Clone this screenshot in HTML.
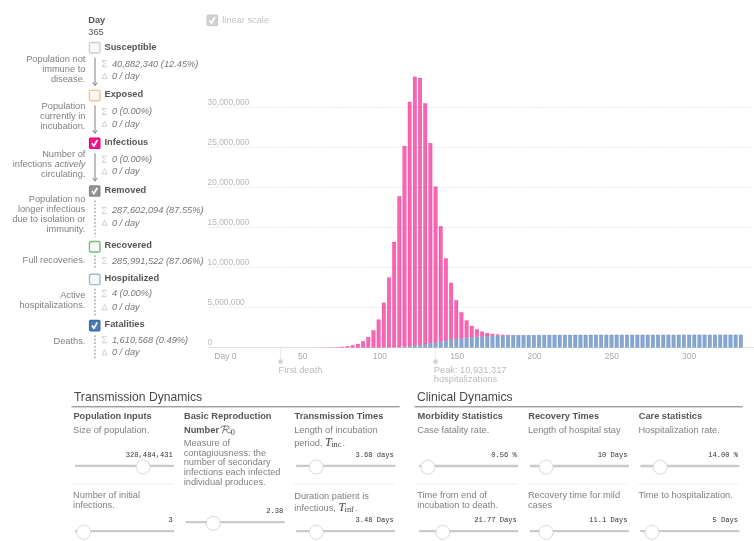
<!DOCTYPE html>
<html lang="en"><head><meta charset="utf-8"><title>Epidemic Calculator</title>
<style>
html,body{margin:0;padding:0;background:#fff;}
body{width:754px;height:541px;overflow:hidden;font-family:"Liberation Sans", sans-serif;}
svg{display:block;will-change:transform;font-family:"Liberation Sans", sans-serif;}
text{white-space:pre;}
</style></head><body>
<svg width="754" height="541" viewBox="0 0 754 541">

<g id="grid">
<line x1="207.7" x2="754" y1="347.60" y2="347.60" stroke="#ddd" stroke-width="0.9"/>
<text x="207.60" y="345.00" font-size="8.35" fill="#b8b8b8" >0</text>
<line x1="207.7" x2="754" y1="307.57" y2="307.57" stroke="#ddd" stroke-width="0.8" stroke-dasharray="1.43 1.43"/>
<text x="207.60" y="304.97" font-size="8.35" fill="#b8b8b8" >5,000,000</text>
<line x1="207.7" x2="754" y1="267.53" y2="267.53" stroke="#ddd" stroke-width="0.8" stroke-dasharray="1.43 1.43"/>
<text x="207.60" y="264.93" font-size="8.35" fill="#b8b8b8" >10,000,000</text>
<line x1="207.7" x2="754" y1="227.50" y2="227.50" stroke="#ddd" stroke-width="0.8" stroke-dasharray="1.43 1.43"/>
<text x="207.60" y="224.90" font-size="8.35" fill="#b8b8b8" >15,000,000</text>
<line x1="207.7" x2="754" y1="187.46" y2="187.46" stroke="#ddd" stroke-width="0.8" stroke-dasharray="1.43 1.43"/>
<text x="207.60" y="184.86" font-size="8.35" fill="#b8b8b8" >20,000,000</text>
<line x1="207.7" x2="754" y1="147.43" y2="147.43" stroke="#ddd" stroke-width="0.8" stroke-dasharray="1.43 1.43"/>
<text x="207.60" y="144.83" font-size="8.35" fill="#b8b8b8" >25,000,000</text>
<line x1="207.7" x2="754" y1="107.39" y2="107.39" stroke="#ddd" stroke-width="0.8" stroke-dasharray="1.43 1.43"/>
<text x="207.60" y="104.79" font-size="8.35" fill="#b8b8b8" >30,000,000</text>
</g>
<g id="bars">
<rect x="314.57" y="347.53" width="3.95" height="0.07" fill="#f0027f" fill-opacity="0.6"/>
<rect x="319.74" y="347.49" width="3.95" height="0.11" fill="#f0027f" fill-opacity="0.6"/>
<rect x="324.92" y="347.42" width="3.95" height="0.18" fill="#f0027f" fill-opacity="0.6"/>
<rect x="330.09" y="347.29" width="3.95" height="0.31" fill="#f0027f" fill-opacity="0.6"/>
<rect x="335.26" y="347.09" width="3.95" height="0.51" fill="#f0027f" fill-opacity="0.6"/>
<rect x="340.69" y="347.00" width="3.45" height="0.35" fill="#f0027f" fill-opacity="0.6" stroke="#f0027f" stroke-opacity="0.5" stroke-width="0.5"/>
<rect x="345.86" y="346.44" width="3.45" height="0.91" fill="#f0027f" fill-opacity="0.6" stroke="#f0027f" stroke-opacity="0.5" stroke-width="0.5"/>
<rect x="351.04" y="345.51" width="3.45" height="1.83" fill="#f0027f" fill-opacity="0.6" stroke="#f0027f" stroke-opacity="0.5" stroke-width="0.5"/>
<rect x="356.21" y="343.98" width="3.45" height="3.36" fill="#f0027f" fill-opacity="0.6" stroke="#f0027f" stroke-opacity="0.5" stroke-width="0.5"/>
<rect x="361.39" y="341.44" width="3.45" height="5.89" fill="#f0027f" fill-opacity="0.6" stroke="#f0027f" stroke-opacity="0.5" stroke-width="0.5"/>
<rect x="366.56" y="337.29" width="3.45" height="10.03" fill="#f0027f" fill-opacity="0.6" stroke="#f0027f" stroke-opacity="0.5" stroke-width="0.5"/>
<rect x="371.74" y="330.55" width="3.45" height="16.75" fill="#f0027f" fill-opacity="0.6" stroke="#f0027f" stroke-opacity="0.5" stroke-width="0.5"/>
<rect x="376.66" y="347.52" width="3.95" height="0.08" fill="#386cb0" fill-opacity="0.6"/>
<rect x="376.91" y="319.76" width="3.45" height="27.51" fill="#f0027f" fill-opacity="0.6" stroke="#f0027f" stroke-opacity="0.5" stroke-width="0.5"/>
<rect x="381.83" y="347.46" width="3.95" height="0.14" fill="#386cb0" fill-opacity="0.6"/>
<rect x="382.08" y="302.93" width="3.45" height="44.29" fill="#f0027f" fill-opacity="0.6" stroke="#f0027f" stroke-opacity="0.5" stroke-width="0.5"/>
<rect x="387.01" y="347.38" width="3.95" height="0.22" fill="#386cb0" fill-opacity="0.6"/>
<rect x="387.26" y="277.67" width="3.45" height="69.46" fill="#f0027f" fill-opacity="0.6" stroke="#f0027f" stroke-opacity="0.5" stroke-width="0.5"/>
<rect x="392.18" y="347.24" width="3.95" height="0.36" fill="#386cb0" fill-opacity="0.6"/>
<rect x="392.43" y="242.07" width="3.45" height="104.92" fill="#f0027f" fill-opacity="0.6" stroke="#f0027f" stroke-opacity="0.5" stroke-width="0.5"/>
<rect x="397.36" y="347.03" width="3.95" height="0.57" fill="#386cb0" fill-opacity="0.6"/>
<rect x="397.61" y="196.52" width="3.45" height="150.26" fill="#f0027f" fill-opacity="0.6" stroke="#f0027f" stroke-opacity="0.5" stroke-width="0.5"/>
<rect x="402.78" y="346.97" width="3.45" height="0.38" fill="#386cb0" fill-opacity="0.6" stroke="#386cb0" stroke-opacity="0.5" stroke-width="0.5"/>
<rect x="402.78" y="146.22" width="3.45" height="200.25" fill="#f0027f" fill-opacity="0.6" stroke="#f0027f" stroke-opacity="0.5" stroke-width="0.5"/>
<rect x="407.96" y="346.53" width="3.45" height="0.82" fill="#386cb0" fill-opacity="0.6" stroke="#386cb0" stroke-opacity="0.5" stroke-width="0.5"/>
<rect x="407.96" y="102.06" width="3.45" height="243.97" fill="#f0027f" fill-opacity="0.6" stroke="#f0027f" stroke-opacity="0.5" stroke-width="0.5"/>
<rect x="413.13" y="345.94" width="3.45" height="1.41" fill="#386cb0" fill-opacity="0.6" stroke="#386cb0" stroke-opacity="0.5" stroke-width="0.5"/>
<rect x="413.13" y="76.87" width="3.45" height="268.57" fill="#f0027f" fill-opacity="0.6" stroke="#f0027f" stroke-opacity="0.5" stroke-width="0.5"/>
<rect x="418.31" y="345.21" width="3.45" height="2.14" fill="#386cb0" fill-opacity="0.6" stroke="#386cb0" stroke-opacity="0.5" stroke-width="0.5"/>
<rect x="418.31" y="78.14" width="3.45" height="266.58" fill="#f0027f" fill-opacity="0.6" stroke="#f0027f" stroke-opacity="0.5" stroke-width="0.5"/>
<rect x="423.48" y="344.37" width="3.45" height="2.98" fill="#386cb0" fill-opacity="0.6" stroke="#386cb0" stroke-opacity="0.5" stroke-width="0.5"/>
<rect x="423.48" y="103.48" width="3.45" height="240.39" fill="#f0027f" fill-opacity="0.6" stroke="#f0027f" stroke-opacity="0.5" stroke-width="0.5"/>
<rect x="428.66" y="343.45" width="3.45" height="3.90" fill="#386cb0" fill-opacity="0.6" stroke="#386cb0" stroke-opacity="0.5" stroke-width="0.5"/>
<rect x="428.66" y="143.27" width="3.45" height="199.68" fill="#f0027f" fill-opacity="0.6" stroke="#f0027f" stroke-opacity="0.5" stroke-width="0.5"/>
<rect x="433.83" y="342.50" width="3.45" height="4.85" fill="#386cb0" fill-opacity="0.6" stroke="#386cb0" stroke-opacity="0.5" stroke-width="0.5"/>
<rect x="433.83" y="186.75" width="3.45" height="155.25" fill="#f0027f" fill-opacity="0.6" stroke="#f0027f" stroke-opacity="0.5" stroke-width="0.5"/>
<rect x="439.00" y="341.57" width="3.45" height="5.78" fill="#386cb0" fill-opacity="0.6" stroke="#386cb0" stroke-opacity="0.5" stroke-width="0.5"/>
<rect x="439.00" y="226.36" width="3.45" height="114.71" fill="#f0027f" fill-opacity="0.6" stroke="#f0027f" stroke-opacity="0.5" stroke-width="0.5"/>
<rect x="444.18" y="340.69" width="3.45" height="6.66" fill="#386cb0" fill-opacity="0.6" stroke="#386cb0" stroke-opacity="0.5" stroke-width="0.5"/>
<rect x="444.18" y="258.61" width="3.45" height="81.59" fill="#f0027f" fill-opacity="0.6" stroke="#f0027f" stroke-opacity="0.5" stroke-width="0.5"/>
<rect x="449.35" y="339.89" width="3.45" height="7.46" fill="#386cb0" fill-opacity="0.6" stroke="#386cb0" stroke-opacity="0.5" stroke-width="0.5"/>
<rect x="449.35" y="282.97" width="3.45" height="56.42" fill="#f0027f" fill-opacity="0.6" stroke="#f0027f" stroke-opacity="0.5" stroke-width="0.5"/>
<rect x="454.53" y="339.17" width="3.45" height="8.18" fill="#386cb0" fill-opacity="0.6" stroke="#386cb0" stroke-opacity="0.5" stroke-width="0.5"/>
<rect x="454.53" y="300.45" width="3.45" height="38.22" fill="#f0027f" fill-opacity="0.6" stroke="#f0027f" stroke-opacity="0.5" stroke-width="0.5"/>
<rect x="459.70" y="338.53" width="3.45" height="8.82" fill="#386cb0" fill-opacity="0.6" stroke="#386cb0" stroke-opacity="0.5" stroke-width="0.5"/>
<rect x="459.70" y="312.55" width="3.45" height="25.48" fill="#f0027f" fill-opacity="0.6" stroke="#f0027f" stroke-opacity="0.5" stroke-width="0.5"/>
<rect x="464.88" y="337.98" width="3.45" height="9.37" fill="#386cb0" fill-opacity="0.6" stroke="#386cb0" stroke-opacity="0.5" stroke-width="0.5"/>
<rect x="464.88" y="320.70" width="3.45" height="16.78" fill="#f0027f" fill-opacity="0.6" stroke="#f0027f" stroke-opacity="0.5" stroke-width="0.5"/>
<rect x="470.05" y="337.50" width="3.45" height="9.85" fill="#386cb0" fill-opacity="0.6" stroke="#386cb0" stroke-opacity="0.5" stroke-width="0.5"/>
<rect x="470.05" y="326.08" width="3.45" height="10.92" fill="#f0027f" fill-opacity="0.6" stroke="#f0027f" stroke-opacity="0.5" stroke-width="0.5"/>
<rect x="475.23" y="337.09" width="3.45" height="10.26" fill="#386cb0" fill-opacity="0.6" stroke="#386cb0" stroke-opacity="0.5" stroke-width="0.5"/>
<rect x="475.23" y="329.58" width="3.45" height="7.01" fill="#f0027f" fill-opacity="0.6" stroke="#f0027f" stroke-opacity="0.5" stroke-width="0.5"/>
<rect x="480.40" y="336.75" width="3.45" height="10.60" fill="#386cb0" fill-opacity="0.6" stroke="#386cb0" stroke-opacity="0.5" stroke-width="0.5"/>
<rect x="480.40" y="331.82" width="3.45" height="4.43" fill="#f0027f" fill-opacity="0.6" stroke="#f0027f" stroke-opacity="0.5" stroke-width="0.5"/>
<rect x="485.57" y="336.46" width="3.45" height="10.89" fill="#386cb0" fill-opacity="0.6" stroke="#386cb0" stroke-opacity="0.5" stroke-width="0.5"/>
<rect x="485.57" y="333.23" width="3.45" height="2.73" fill="#f0027f" fill-opacity="0.6" stroke="#f0027f" stroke-opacity="0.5" stroke-width="0.5"/>
<rect x="490.75" y="336.21" width="3.45" height="11.14" fill="#386cb0" fill-opacity="0.6" stroke="#386cb0" stroke-opacity="0.5" stroke-width="0.5"/>
<rect x="490.75" y="334.10" width="3.45" height="1.61" fill="#f0027f" fill-opacity="0.6" stroke="#f0027f" stroke-opacity="0.5" stroke-width="0.5"/>
<rect x="495.92" y="336.00" width="3.45" height="11.35" fill="#386cb0" fill-opacity="0.6" stroke="#386cb0" stroke-opacity="0.5" stroke-width="0.5"/>
<rect x="495.92" y="334.62" width="3.45" height="0.88" fill="#f0027f" fill-opacity="0.6" stroke="#f0027f" stroke-opacity="0.5" stroke-width="0.5"/>
<rect x="501.10" y="335.83" width="3.45" height="11.52" fill="#386cb0" fill-opacity="0.6" stroke="#386cb0" stroke-opacity="0.5" stroke-width="0.5"/>
<rect x="501.10" y="334.93" width="3.45" height="0.40" fill="#f0027f" fill-opacity="0.6" stroke="#f0027f" stroke-opacity="0.5" stroke-width="0.5"/>
<rect x="506.27" y="335.69" width="3.45" height="11.66" fill="#386cb0" fill-opacity="0.6" stroke="#386cb0" stroke-opacity="0.5" stroke-width="0.5"/>
<rect x="506.02" y="334.85" width="3.95" height="0.59" fill="#f0027f" fill-opacity="0.6"/>
<rect x="511.45" y="335.56" width="3.45" height="11.79" fill="#386cb0" fill-opacity="0.6" stroke="#386cb0" stroke-opacity="0.5" stroke-width="0.5"/>
<rect x="511.20" y="334.93" width="3.95" height="0.38" fill="#f0027f" fill-opacity="0.6"/>
<rect x="516.62" y="335.46" width="3.45" height="11.89" fill="#386cb0" fill-opacity="0.6" stroke="#386cb0" stroke-opacity="0.5" stroke-width="0.5"/>
<rect x="516.37" y="334.96" width="3.95" height="0.25" fill="#f0027f" fill-opacity="0.6"/>
<rect x="521.80" y="335.38" width="3.45" height="11.97" fill="#386cb0" fill-opacity="0.6" stroke="#386cb0" stroke-opacity="0.5" stroke-width="0.5"/>
<rect x="521.55" y="334.96" width="3.95" height="0.16" fill="#f0027f" fill-opacity="0.6"/>
<rect x="526.97" y="335.31" width="3.45" height="12.04" fill="#386cb0" fill-opacity="0.6" stroke="#386cb0" stroke-opacity="0.5" stroke-width="0.5"/>
<rect x="526.72" y="334.95" width="3.95" height="0.11" fill="#f0027f" fill-opacity="0.6"/>
<rect x="532.15" y="335.25" width="3.45" height="12.10" fill="#386cb0" fill-opacity="0.6" stroke="#386cb0" stroke-opacity="0.5" stroke-width="0.5"/>
<rect x="531.90" y="334.93" width="3.95" height="0.07" fill="#f0027f" fill-opacity="0.6"/>
<rect x="537.32" y="335.20" width="3.45" height="12.15" fill="#386cb0" fill-opacity="0.6" stroke="#386cb0" stroke-opacity="0.5" stroke-width="0.5"/>
<rect x="542.49" y="335.16" width="3.45" height="12.19" fill="#386cb0" fill-opacity="0.6" stroke="#386cb0" stroke-opacity="0.5" stroke-width="0.5"/>
<rect x="547.67" y="335.12" width="3.45" height="12.23" fill="#386cb0" fill-opacity="0.6" stroke="#386cb0" stroke-opacity="0.5" stroke-width="0.5"/>
<rect x="552.84" y="335.10" width="3.45" height="12.25" fill="#386cb0" fill-opacity="0.6" stroke="#386cb0" stroke-opacity="0.5" stroke-width="0.5"/>
<rect x="558.02" y="335.07" width="3.45" height="12.28" fill="#386cb0" fill-opacity="0.6" stroke="#386cb0" stroke-opacity="0.5" stroke-width="0.5"/>
<rect x="563.19" y="335.05" width="3.45" height="12.30" fill="#386cb0" fill-opacity="0.6" stroke="#386cb0" stroke-opacity="0.5" stroke-width="0.5"/>
<rect x="568.37" y="335.04" width="3.45" height="12.31" fill="#386cb0" fill-opacity="0.6" stroke="#386cb0" stroke-opacity="0.5" stroke-width="0.5"/>
<rect x="573.54" y="335.02" width="3.45" height="12.33" fill="#386cb0" fill-opacity="0.6" stroke="#386cb0" stroke-opacity="0.5" stroke-width="0.5"/>
<rect x="578.72" y="335.01" width="3.45" height="12.34" fill="#386cb0" fill-opacity="0.6" stroke="#386cb0" stroke-opacity="0.5" stroke-width="0.5"/>
<rect x="583.89" y="335.00" width="3.45" height="12.35" fill="#386cb0" fill-opacity="0.6" stroke="#386cb0" stroke-opacity="0.5" stroke-width="0.5"/>
<rect x="589.06" y="334.99" width="3.45" height="12.36" fill="#386cb0" fill-opacity="0.6" stroke="#386cb0" stroke-opacity="0.5" stroke-width="0.5"/>
<rect x="594.24" y="334.99" width="3.45" height="12.36" fill="#386cb0" fill-opacity="0.6" stroke="#386cb0" stroke-opacity="0.5" stroke-width="0.5"/>
<rect x="599.41" y="334.98" width="3.45" height="12.37" fill="#386cb0" fill-opacity="0.6" stroke="#386cb0" stroke-opacity="0.5" stroke-width="0.5"/>
<rect x="604.59" y="334.98" width="3.45" height="12.37" fill="#386cb0" fill-opacity="0.6" stroke="#386cb0" stroke-opacity="0.5" stroke-width="0.5"/>
<rect x="609.76" y="334.97" width="3.45" height="12.38" fill="#386cb0" fill-opacity="0.6" stroke="#386cb0" stroke-opacity="0.5" stroke-width="0.5"/>
<rect x="614.94" y="334.97" width="3.45" height="12.38" fill="#386cb0" fill-opacity="0.6" stroke="#386cb0" stroke-opacity="0.5" stroke-width="0.5"/>
<rect x="620.11" y="334.97" width="3.45" height="12.38" fill="#386cb0" fill-opacity="0.6" stroke="#386cb0" stroke-opacity="0.5" stroke-width="0.5"/>
<rect x="625.29" y="334.97" width="3.45" height="12.38" fill="#386cb0" fill-opacity="0.6" stroke="#386cb0" stroke-opacity="0.5" stroke-width="0.5"/>
<rect x="630.46" y="334.96" width="3.45" height="12.39" fill="#386cb0" fill-opacity="0.6" stroke="#386cb0" stroke-opacity="0.5" stroke-width="0.5"/>
<rect x="635.64" y="334.96" width="3.45" height="12.39" fill="#386cb0" fill-opacity="0.6" stroke="#386cb0" stroke-opacity="0.5" stroke-width="0.5"/>
<rect x="640.81" y="334.96" width="3.45" height="12.39" fill="#386cb0" fill-opacity="0.6" stroke="#386cb0" stroke-opacity="0.5" stroke-width="0.5"/>
<rect x="645.98" y="334.96" width="3.45" height="12.39" fill="#386cb0" fill-opacity="0.6" stroke="#386cb0" stroke-opacity="0.5" stroke-width="0.5"/>
<rect x="651.16" y="334.96" width="3.45" height="12.39" fill="#386cb0" fill-opacity="0.6" stroke="#386cb0" stroke-opacity="0.5" stroke-width="0.5"/>
<rect x="656.33" y="334.96" width="3.45" height="12.39" fill="#386cb0" fill-opacity="0.6" stroke="#386cb0" stroke-opacity="0.5" stroke-width="0.5"/>
<rect x="661.51" y="334.96" width="3.45" height="12.39" fill="#386cb0" fill-opacity="0.6" stroke="#386cb0" stroke-opacity="0.5" stroke-width="0.5"/>
<rect x="666.68" y="334.96" width="3.45" height="12.39" fill="#386cb0" fill-opacity="0.6" stroke="#386cb0" stroke-opacity="0.5" stroke-width="0.5"/>
<rect x="671.86" y="334.96" width="3.45" height="12.39" fill="#386cb0" fill-opacity="0.6" stroke="#386cb0" stroke-opacity="0.5" stroke-width="0.5"/>
<rect x="677.03" y="334.96" width="3.45" height="12.39" fill="#386cb0" fill-opacity="0.6" stroke="#386cb0" stroke-opacity="0.5" stroke-width="0.5"/>
<rect x="682.21" y="334.96" width="3.45" height="12.39" fill="#386cb0" fill-opacity="0.6" stroke="#386cb0" stroke-opacity="0.5" stroke-width="0.5"/>
<rect x="687.38" y="334.96" width="3.45" height="12.39" fill="#386cb0" fill-opacity="0.6" stroke="#386cb0" stroke-opacity="0.5" stroke-width="0.5"/>
<rect x="692.55" y="334.96" width="3.45" height="12.39" fill="#386cb0" fill-opacity="0.6" stroke="#386cb0" stroke-opacity="0.5" stroke-width="0.5"/>
<rect x="697.73" y="334.95" width="3.45" height="12.40" fill="#386cb0" fill-opacity="0.6" stroke="#386cb0" stroke-opacity="0.5" stroke-width="0.5"/>
<rect x="702.90" y="334.95" width="3.45" height="12.40" fill="#386cb0" fill-opacity="0.6" stroke="#386cb0" stroke-opacity="0.5" stroke-width="0.5"/>
<rect x="708.08" y="334.95" width="3.45" height="12.40" fill="#386cb0" fill-opacity="0.6" stroke="#386cb0" stroke-opacity="0.5" stroke-width="0.5"/>
<rect x="713.25" y="334.95" width="3.45" height="12.40" fill="#386cb0" fill-opacity="0.6" stroke="#386cb0" stroke-opacity="0.5" stroke-width="0.5"/>
<rect x="718.43" y="334.95" width="3.45" height="12.40" fill="#386cb0" fill-opacity="0.6" stroke="#386cb0" stroke-opacity="0.5" stroke-width="0.5"/>
<rect x="723.60" y="334.95" width="3.45" height="12.40" fill="#386cb0" fill-opacity="0.6" stroke="#386cb0" stroke-opacity="0.5" stroke-width="0.5"/>
<rect x="728.78" y="334.95" width="3.45" height="12.40" fill="#386cb0" fill-opacity="0.6" stroke="#386cb0" stroke-opacity="0.5" stroke-width="0.5"/>
<rect x="733.95" y="334.95" width="3.45" height="12.40" fill="#386cb0" fill-opacity="0.6" stroke="#386cb0" stroke-opacity="0.5" stroke-width="0.5"/>
<rect x="739.13" y="334.95" width="3.45" height="12.40" fill="#386cb0" fill-opacity="0.6" stroke="#386cb0" stroke-opacity="0.5" stroke-width="0.5"/>
</g>
<g id="xlabels">
<text x="225.40" y="358.90" font-size="8.5" fill="#aaa" text-anchor="middle" >Day 0</text>
<text x="302.68" y="358.90" font-size="8.5" fill="#aaa" text-anchor="middle" >50</text>
<text x="379.95" y="358.90" font-size="8.5" fill="#aaa" text-anchor="middle" >100</text>
<text x="457.23" y="358.90" font-size="8.5" fill="#aaa" text-anchor="middle" >150</text>
<text x="534.50" y="358.90" font-size="8.5" fill="#aaa" text-anchor="middle" >200</text>
<text x="611.77" y="358.90" font-size="8.5" fill="#aaa" text-anchor="middle" >250</text>
<text x="689.05" y="358.90" font-size="8.5" fill="#aaa" text-anchor="middle" >300</text>
</g>
<line x1="280.6" x2="280.6" y1="347.6" y2="360" stroke="#ccc" stroke-width="0.8" stroke-dasharray="1.2 1.2"/>
<circle cx="280.6" cy="361.7" r="2.4" fill="#d4d4d4"/>
<text x="278.60" y="372.80" font-size="9.28" fill="#bbb" >First death</text>
<line x1="435.6" x2="435.6" y1="347.6" y2="360" stroke="#ccc" stroke-width="0.8" stroke-dasharray="1.2 1.2"/>
<circle cx="435.6" cy="361.7" r="2.4" fill="#d4d4d4"/>
<text x="433.80" y="372.80" font-size="9.28" fill="#bbb" >Peak: 10,931,317</text>
<text x="433.80" y="382.40" font-size="9.28" fill="#bbb" >hospitalizations</text>
<rect x="206.50" y="14.60" width="11.6" height="11.6" rx="1.6" fill="#ccc"/>
<rect x="207.90" y="16.00" width="8.80" height="8.80" fill="#fff" fill-opacity="0.1"/>
<path d="M209.50 20.40 L211.50 23.00 L214.90 17.20" fill="none" stroke="#fff" stroke-width="1.7" stroke-linecap="butt" stroke-linejoin="miter"/>
<text x="222.20" y="22.60" font-size="9.28" fill="#c4c4c4" >linear scale</text>
<text x="88.20" y="23.00" font-size="9.28" fill="#555" font-weight="bold" >Day</text>
<text x="88.30" y="34.60" font-size="9.28" fill="#555" >365</text>
<rect x="89.47" y="42.57" width="10.47" height="10.47" rx="1.3" fill="#f9f9fb" stroke="#d0d0d0" stroke-width="1.43"/>
<text x="104.50" y="49.80" font-size="9.28" fill="#555" font-weight="bold" >Susceptible</text>
<rect x="89.47" y="90.36" width="10.47" height="10.47" rx="1.3" fill="#f9f9fb" stroke="#fdc086" stroke-width="1.43"/>
<text x="104.50" y="97.30" font-size="9.28" fill="#555" font-weight="bold" >Exposed</text>
<rect x="88.90" y="137.50" width="11.6" height="11.6" rx="1.6" fill="#f0027f"/>
<rect x="90.30" y="138.90" width="8.80" height="8.80" fill="#fff" fill-opacity="0.1"/>
<path d="M91.90 143.30 L93.90 145.90 L97.30 140.10" fill="none" stroke="#fff" stroke-width="1.7" stroke-linecap="butt" stroke-linejoin="miter"/>
<text x="104.50" y="144.80" font-size="9.28" fill="#555" font-weight="bold" >Infectious</text>
<rect x="88.90" y="185.20" width="11.6" height="11.6" rx="1.6" fill="#888"/>
<rect x="90.30" y="186.60" width="8.80" height="8.80" fill="#fff" fill-opacity="0.1"/>
<path d="M91.90 191.00 L93.90 193.60 L97.30 187.80" fill="none" stroke="#fff" stroke-width="1.7" stroke-linecap="butt" stroke-linejoin="miter"/>
<text x="104.50" y="192.60" font-size="9.28" fill="#555" font-weight="bold" >Removed</text>
<rect x="89.47" y="241.56" width="10.47" height="10.47" rx="1.3" fill="#f9f9fb" stroke="#72c070" stroke-width="1.43"/>
<text x="104.50" y="248.30" font-size="9.28" fill="#555" font-weight="bold" >Recovered</text>
<rect x="89.47" y="274.17" width="10.47" height="10.47" rx="1.3" fill="#f9f9fb" stroke="#a3b4da" stroke-width="1.43"/>
<text x="104.50" y="281.20" font-size="9.28" fill="#555" font-weight="bold" >Hospitalized</text>
<rect x="88.90" y="319.80" width="11.6" height="11.6" rx="1.6" fill="#386cb0"/>
<rect x="90.30" y="321.20" width="8.80" height="8.80" fill="#fff" fill-opacity="0.1"/>
<path d="M91.90 325.60 L93.90 328.20 L97.30 322.40" fill="none" stroke="#fff" stroke-width="1.7" stroke-linecap="butt" stroke-linejoin="miter"/>
<text x="104.50" y="326.80" font-size="9.28" fill="#555" font-weight="bold" >Fatalities</text>
<path d="M106.20 61.90 L106.20 60.60 L102.10 60.60 L104.60 63.80 L102.10 66.80 L106.20 66.80 L106.20 65.50" fill="none" stroke="#b8b8b8" stroke-width="0.65"/>
<text x="111.90" y="66.60" font-size="9.28" fill="#777" font-style="italic" >40,882,340 (12.45%)</text>
<path d="M102.20 78.60 L104.55 73.20 L107.00 78.60 Z" fill="none" stroke="#b8b8b8" stroke-width="0.65"/>
<text x="111.90" y="78.80" font-size="9.28" fill="#777" font-style="italic" >0 / day</text>
<path d="M106.20 109.70 L106.20 108.40 L102.10 108.40 L104.60 111.60 L102.10 114.60 L106.20 114.60 L106.20 113.30" fill="none" stroke="#b8b8b8" stroke-width="0.65"/>
<text x="111.90" y="114.40" font-size="9.28" fill="#777" font-style="italic" >0 (0.00%)</text>
<path d="M102.20 126.40 L104.55 121.00 L107.00 126.40 Z" fill="none" stroke="#b8b8b8" stroke-width="0.65"/>
<text x="111.90" y="126.60" font-size="9.28" fill="#777" font-style="italic" >0 / day</text>
<path d="M106.20 157.40 L106.20 156.10 L102.10 156.10 L104.60 159.30 L102.10 162.30 L106.20 162.30 L106.20 161.00" fill="none" stroke="#b8b8b8" stroke-width="0.65"/>
<text x="111.90" y="162.10" font-size="9.28" fill="#777" font-style="italic" >0 (0.00%)</text>
<path d="M102.20 174.10 L104.55 168.70 L107.00 174.10 Z" fill="none" stroke="#b8b8b8" stroke-width="0.65"/>
<text x="111.90" y="174.30" font-size="9.28" fill="#777" font-style="italic" >0 / day</text>
<path d="M106.20 208.70 L106.20 207.40 L102.10 207.40 L104.60 210.60 L102.10 213.60 L106.20 213.60 L106.20 212.30" fill="none" stroke="#b8b8b8" stroke-width="0.65"/>
<text x="111.90" y="213.40" font-size="9.28" fill="#777" font-style="italic" >287,602,094 (87.55%)</text>
<path d="M102.20 225.30 L104.55 219.90 L107.00 225.30 Z" fill="none" stroke="#b8b8b8" stroke-width="0.65"/>
<text x="111.90" y="225.50" font-size="9.28" fill="#777" font-style="italic" >0 / day</text>
<path d="M106.20 258.80 L106.20 257.50 L102.10 257.50 L104.60 260.70 L102.10 263.70 L106.20 263.70 L106.20 262.40" fill="none" stroke="#b8b8b8" stroke-width="0.65"/>
<text x="111.90" y="263.50" font-size="9.28" fill="#777" font-style="italic" >285,991,522 (87.06%)</text>
<path d="M106.20 291.70 L106.20 290.40 L102.10 290.40 L104.60 293.60 L102.10 296.60 L106.20 296.60 L106.20 295.30" fill="none" stroke="#b8b8b8" stroke-width="0.65"/>
<text x="111.90" y="296.40" font-size="9.28" fill="#777" font-style="italic" >4 (0.00%)</text>
<path d="M102.20 309.80 L104.55 304.40 L107.00 309.80 Z" fill="none" stroke="#b8b8b8" stroke-width="0.65"/>
<text x="111.90" y="310.00" font-size="9.28" fill="#777" font-style="italic" >0 / day</text>
<path d="M106.20 337.90 L106.20 336.60 L102.10 336.60 L104.60 339.80 L102.10 342.80 L106.20 342.80 L106.20 341.50" fill="none" stroke="#b8b8b8" stroke-width="0.65"/>
<text x="111.90" y="342.60" font-size="9.28" fill="#777" font-style="italic" >1,610,568 (0.49%)</text>
<path d="M102.20 354.80 L104.55 349.40 L107.00 354.80 Z" fill="none" stroke="#b8b8b8" stroke-width="0.65"/>
<text x="111.90" y="355.00" font-size="9.28" fill="#777" font-style="italic" >0 / day</text>
<line x1="95.0" x2="95.0" y1="57.7" y2="85.1" stroke="#737373" stroke-width="0.9"/>
<path d="M92.6 82.3 L95.0 85.6 L97.4 82.3" fill="none" stroke="#737373" stroke-width="0.9"/>
<line x1="95.0" x2="95.0" y1="105.4" y2="132.9" stroke="#737373" stroke-width="0.9"/>
<path d="M92.6 130.1 L95.0 133.4 L97.4 130.1" fill="none" stroke="#737373" stroke-width="0.9"/>
<line x1="95.0" x2="95.0" y1="153.2" y2="180.6" stroke="#737373" stroke-width="0.9"/>
<path d="M92.6 177.79999999999998 L95.0 181.1 L97.4 177.79999999999998" fill="none" stroke="#737373" stroke-width="0.9"/>
<line x1="95.0" x2="95.0" y1="200.6" y2="236.8" stroke="#999" stroke-width="1.3" stroke-dasharray="1.7 1.87"/>
<line x1="95.0" x2="95.0" y1="255.2" y2="268.7" stroke="#999" stroke-width="1.3" stroke-dasharray="1.7 1.87"/>
<line x1="95.0" x2="95.0" y1="288.8" y2="315.5" stroke="#999" stroke-width="1.3" stroke-dasharray="1.7 1.87"/>
<line x1="95.0" x2="95.0" y1="335.2" y2="358.8" stroke="#999" stroke-width="1.3" stroke-dasharray="1.7 1.87"/>
<text x="85.40" y="61.70" font-size="9.28" fill="#808080" text-anchor="end" >Population not</text>
<text x="85.40" y="71.60" font-size="9.28" fill="#808080" text-anchor="end" >immune to</text>
<text x="85.40" y="81.50" font-size="9.28" fill="#808080" text-anchor="end" >disease.</text>
<text x="85.40" y="109.40" font-size="9.28" fill="#808080" text-anchor="end" >Population</text>
<text x="85.40" y="119.30" font-size="9.28" fill="#808080" text-anchor="end" >currently in</text>
<text x="85.40" y="129.20" font-size="9.28" fill="#808080" text-anchor="end" >incubation.</text>
<text x="85.40" y="157.10" font-size="9.28" fill="#808080" text-anchor="end" >Number of</text>
<text x="85.40" y="167.00" font-size="9.28" fill="#808080" text-anchor="end" >infections <tspan font-style='italic'>actively</tspan></text>
<text x="85.40" y="176.90" font-size="9.28" fill="#808080" text-anchor="end" >circulating.</text>
<text x="85.40" y="201.70" font-size="9.28" fill="#808080" text-anchor="end" >Population no</text>
<text x="85.40" y="211.85" font-size="9.28" fill="#808080" text-anchor="end" >longer infectious</text>
<text x="85.40" y="222.00" font-size="9.28" fill="#808080" text-anchor="end" >due to isolation or</text>
<text x="85.40" y="232.15" font-size="9.28" fill="#808080" text-anchor="end" >immunity.</text>
<text x="85.40" y="263.00" font-size="9.28" fill="#808080" text-anchor="end" >Full recoveries.</text>
<text x="85.40" y="297.70" font-size="9.28" fill="#808080" text-anchor="end" >Active</text>
<text x="85.40" y="307.60" font-size="9.28" fill="#808080" text-anchor="end" >hospitalizations.</text>
<text x="85.40" y="344.00" font-size="9.28" fill="#808080" text-anchor="end" >Deaths.</text>
<text x="73.90" y="400.50" font-size="12.13" fill="#484848" >Transmission Dynamics</text>
<text x="416.90" y="400.50" font-size="12.13" fill="#484848" >Clinical Dynamics</text>
<line x1="71.5" x2="399.7" y1="406.8" y2="406.8" stroke="#666" stroke-width="0.9"/>
<line x1="414.5" x2="742.6" y1="406.8" y2="406.8" stroke="#666" stroke-width="0.9"/>
<text x="73.40" y="418.90" font-size="9.28" fill="#555" font-weight="bold" >Population Inputs</text>
<text x="73.10" y="432.90" font-size="9.28" fill="#808080" >Size of population.</text>
<text x="172.80" y="456.70" font-size="7.14" fill="#333" text-anchor="end" font-family='"Liberation Mono", monospace' >328,484,431</text>
<line x1="75.90" x2="173.20" y1="465.8" y2="465.8" stroke="#cacaca" stroke-width="2.3" stroke-linecap="round"/>
<circle cx="143.1" cy="466.90" r="7.0" fill="#fff" stroke="#d0d0d0" stroke-width="0.8"/>
<line x1="72.90" x2="172.90" y1="483.8" y2="483.8" stroke="#eee" stroke-width="0.8"/>
<text x="73.10" y="498.40" font-size="9.28" fill="#808080" >Number of initial</text>
<text x="73.10" y="507.70" font-size="9.28" fill="#808080" >infections.</text>
<text x="172.80" y="521.60" font-size="7.14" fill="#333" text-anchor="end" font-family='"Liberation Mono", monospace' >3</text>
<line x1="75.90" x2="173.20" y1="531.1" y2="531.1" stroke="#cacaca" stroke-width="2.3" stroke-linecap="round"/>
<circle cx="83.7" cy="532.20" r="7.0" fill="#fff" stroke="#d0d0d0" stroke-width="0.8"/>
<text x="184.00" y="418.90" font-size="9.28" fill="#555" font-weight="bold" >Basic Reproduction</text>
<text x="184.00" y="433.10" font-size="9.28" fill="#555" font-weight="bold" >Number</text>
<g transform="translate(220.6,425.8)" fill="none" stroke="#444" stroke-width="0.75" stroke-linecap="round" stroke-linejoin="round"><path d="M0.2 1.9 C0.6 0.6 1.8 0.2 3.4 0.2 L6.2 0.2 C7.8 0.2 8.7 0.9 8.5 2 C8.3 3.2 6.6 3.8 4.6 3.8 L3.6 3.8"/><path d="M3.9 0.3 C3.6 2.6 2.9 5.2 1.7 7.2"/><path d="M4.9 3.8 C5.9 4.4 6.3 5.6 6.9 6.5 C7.6 7.5 9.3 7.4 10.4 6.1"/></g>
<text x="230.70" y="434.80" font-size="8.3" fill="#444" font-family='"Liberation Serif", serif' >0</text>
<text x="183.70" y="445.90" font-size="9.28" fill="#808080" >Measure of</text>
<text x="183.70" y="455.68" font-size="9.28" fill="#808080" >contagiousness: the</text>
<text x="183.70" y="465.46" font-size="9.28" fill="#808080" >number of secondary</text>
<text x="183.70" y="475.24" font-size="9.28" fill="#808080" >infections each infected</text>
<text x="183.70" y="485.02" font-size="9.28" fill="#808080" >individual produces.</text>
<text x="283.40" y="513.40" font-size="7.14" fill="#333" text-anchor="end" font-family='"Liberation Mono", monospace' >2.38</text>
<line x1="186.50" x2="283.80" y1="522.2" y2="522.2" stroke="#cacaca" stroke-width="2.3" stroke-linecap="round"/>
<circle cx="213.3" cy="523.30" r="7.0" fill="#fff" stroke="#d0d0d0" stroke-width="0.8"/>
<text x="294.50" y="418.90" font-size="9.28" fill="#555" font-weight="bold" >Transmission Times</text>
<text x="294.20" y="432.70" font-size="9.28" fill="#808080" >Length of incubation</text>
<text x="294.20" y="445.60" font-size="9.28" fill="#808080" >period, <tspan font-family='"Liberation Serif", serif' font-style='italic' font-size='12' fill='#444'>T</tspan><tspan font-family='"Liberation Serif", serif' font-size='8.3' dy='1.6' dx='-0.6' fill='#444'>inc</tspan><tspan dy='-1.6' dx='1.2'>.</tspan></text>
<text x="393.90" y="456.60" font-size="7.14" fill="#333" text-anchor="end" font-family='"Liberation Mono", monospace' >3.68 days</text>
<line x1="297.00" x2="394.30" y1="465.9" y2="465.9" stroke="#cacaca" stroke-width="2.3" stroke-linecap="round"/>
<circle cx="316.3" cy="467.00" r="7.0" fill="#fff" stroke="#d0d0d0" stroke-width="0.8"/>
<line x1="294.00" x2="394.00" y1="483.8" y2="483.8" stroke="#eee" stroke-width="0.8"/>
<text x="294.20" y="498.50" font-size="9.28" fill="#808080" >Duration patient is</text>
<text x="294.20" y="510.80" font-size="9.28" fill="#808080" >infectious, <tspan font-family='"Liberation Serif", serif' font-style='italic' font-size='12' fill='#444'>T</tspan><tspan font-family='"Liberation Serif", serif' font-size='8.3' dy='1.6' dx='-0.6' fill='#444'>inf</tspan><tspan dy='-1.6' dx='1.2'>.</tspan></text>
<text x="393.90" y="521.50" font-size="7.14" fill="#333" text-anchor="end" font-family='"Liberation Mono", monospace' >3.48 Days</text>
<line x1="297.00" x2="394.30" y1="531.1" y2="531.1" stroke="#cacaca" stroke-width="2.3" stroke-linecap="round"/>
<circle cx="316.3" cy="532.20" r="7.0" fill="#fff" stroke="#d0d0d0" stroke-width="0.8"/>
<text x="417.50" y="418.90" font-size="9.28" fill="#555" font-weight="bold" >Morbidity Statistics</text>
<text x="417.20" y="433.00" font-size="9.28" fill="#808080" >Case fatality rate.</text>
<text x="516.90" y="456.60" font-size="7.14" fill="#333" text-anchor="end" font-family='"Liberation Mono", monospace' >0.56 %</text>
<line x1="420.00" x2="517.30" y1="466.0" y2="466.0" stroke="#cacaca" stroke-width="2.3" stroke-linecap="round"/>
<circle cx="427.9" cy="467.10" r="7.0" fill="#fff" stroke="#d0d0d0" stroke-width="0.8"/>
<line x1="417.00" x2="517.00" y1="483.8" y2="483.8" stroke="#eee" stroke-width="0.8"/>
<text x="417.20" y="498.20" font-size="9.28" fill="#808080" >Time from end of</text>
<text x="417.20" y="508.00" font-size="9.28" fill="#808080" >incubation to death.</text>
<text x="516.90" y="521.70" font-size="7.14" fill="#333" text-anchor="end" font-family='"Liberation Mono", monospace' >21.77 Days</text>
<line x1="420.00" x2="517.30" y1="531.2" y2="531.2" stroke="#cacaca" stroke-width="2.3" stroke-linecap="round"/>
<circle cx="442.8" cy="532.30" r="7.0" fill="#fff" stroke="#d0d0d0" stroke-width="0.8"/>
<text x="528.20" y="418.90" font-size="9.28" fill="#555" font-weight="bold" >Recovery Times</text>
<text x="527.90" y="433.00" font-size="9.28" fill="#808080" >Length of hospital stay</text>
<text x="627.60" y="456.60" font-size="7.14" fill="#333" text-anchor="end" font-family='"Liberation Mono", monospace' >10 Days</text>
<line x1="530.70" x2="628.00" y1="466.0" y2="466.0" stroke="#cacaca" stroke-width="2.3" stroke-linecap="round"/>
<circle cx="546.1" cy="467.10" r="7.0" fill="#fff" stroke="#d0d0d0" stroke-width="0.8"/>
<line x1="527.70" x2="627.70" y1="483.8" y2="483.8" stroke="#eee" stroke-width="0.8"/>
<text x="527.90" y="498.20" font-size="9.28" fill="#808080" >Recovery time for mild</text>
<text x="527.90" y="508.00" font-size="9.28" fill="#808080" >cases</text>
<text x="627.60" y="521.70" font-size="7.14" fill="#333" text-anchor="end" font-family='"Liberation Mono", monospace' >11.1 Days</text>
<line x1="530.70" x2="628.00" y1="531.2" y2="531.2" stroke="#cacaca" stroke-width="2.3" stroke-linecap="round"/>
<circle cx="546.1" cy="532.30" r="7.0" fill="#fff" stroke="#d0d0d0" stroke-width="0.8"/>
<text x="638.70" y="418.90" font-size="9.28" fill="#555" font-weight="bold" >Care statistics</text>
<text x="638.40" y="433.00" font-size="9.28" fill="#808080" >Hospitalization rate.</text>
<text x="738.10" y="456.60" font-size="7.14" fill="#333" text-anchor="end" font-family='"Liberation Mono", monospace' >14.00 %</text>
<line x1="641.20" x2="738.50" y1="466.0" y2="466.0" stroke="#cacaca" stroke-width="2.3" stroke-linecap="round"/>
<circle cx="660.2" cy="467.10" r="7.0" fill="#fff" stroke="#d0d0d0" stroke-width="0.8"/>
<line x1="638.20" x2="738.20" y1="483.8" y2="483.8" stroke="#eee" stroke-width="0.8"/>
<text x="638.40" y="498.20" font-size="9.28" fill="#808080" >Time to hospitalization.</text>
<text x="738.10" y="521.70" font-size="7.14" fill="#333" text-anchor="end" font-family='"Liberation Mono", monospace' >5 Days</text>
<line x1="641.20" x2="738.50" y1="531.2" y2="531.2" stroke="#cacaca" stroke-width="2.3" stroke-linecap="round"/>
<circle cx="651.9" cy="532.30" r="7.0" fill="#fff" stroke="#d0d0d0" stroke-width="0.8"/>
</svg>
</body></html>
